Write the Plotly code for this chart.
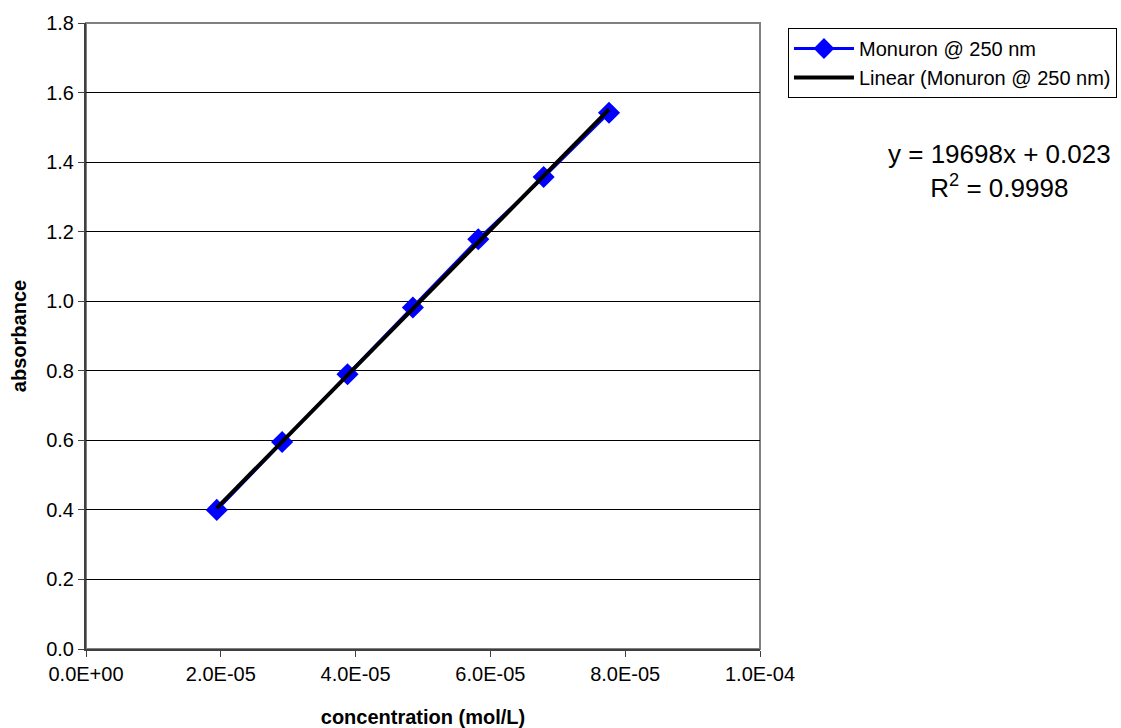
import plotly.graph_objects as go

# Data
concentration = [1.94e-5, 2.91e-5, 3.88e-5, 4.85e-5, 5.82e-5, 6.79e-5, 7.76e-5]
absorbance = [0.400, 0.595, 0.790, 0.982, 1.178, 1.357, 1.542]
trend_slope = 19698
trend_intercept = 0.023
x_tickvals = [0, 2e-5, 4e-5, 6e-5, 8e-5, 1e-4]
x_ticktext = ["0.0E+00", "2.0E-05", "4.0E-05", "6.0E-05", "8.0E-05", "1.0E-04"]
y_tickvals = [0.0, 0.2, 0.4, 0.6, 0.8, 1.0, 1.2, 1.4, 1.6, 1.8]
y_ticktext = ["0.0", "0.2", "0.4", "0.6", "0.8", "1.0", "1.2", "1.4", "1.6", "1.8"]

FONT = "Liberation Sans, Arial, sans-serif"

trend_x = [concentration[0], concentration[-1]]
trend_y = [trend_slope * v + trend_intercept for v in trend_x]

fig = go.Figure()
fig.add_trace(go.Scatter(
    x=concentration, y=absorbance, mode="lines+markers",
    name="Monuron @ 250 nm",
    line=dict(color="#0000FF", width=3),
    marker=dict(symbol="diamond", size=17, color="#0000FF"),
))
fig.add_trace(go.Scatter(
    x=trend_x, y=trend_y, mode="lines",
    name="Linear (Monuron @ 250 nm)",
    line=dict(color="#000000", width=4),
))

fig.update_layout(
    width=1121, height=728,
    margin=dict(l=86, r=361, t=23, b=79, autoexpand=False),
    paper_bgcolor="white", plot_bgcolor="white",
    font=dict(family=FONT, size=20, color="#000000"),
    showlegend=True,
    legend=dict(
        x=1.0415, y=0.992, xanchor="left", yanchor="top",
        bordercolor="#000000", borderwidth=1,
        font=dict(family=FONT, size=20),
        tracegroupgap=0, itemwidth=60,
    ),
    xaxis=dict(
        range=[0, 1e-4], tickvals=x_tickvals, ticktext=x_ticktext,
        showgrid=False, zeroline=False, automargin=False,
        showline=True, linecolor="#404040", linewidth=2,
        ticks="outside", ticklen=6, tickcolor="#404040", tickwidth=1,
        tickfont=dict(family=FONT, size=20),
        title=dict(text="<b>concentration (mol/L)</b>", font=dict(family=FONT, size=20), standoff=26),
    ),
    yaxis=dict(
        range=[0, 1.8], tickvals=y_tickvals, ticktext=y_ticktext,
        showgrid=True, gridcolor="#000000", gridwidth=1,
        zeroline=False, automargin=False,
        showline=True, linecolor="#404040", linewidth=2,
        ticks="outside", ticklen=6, tickcolor="#404040", tickwidth=1,
        tickfont=dict(family=FONT, size=20),
        title=dict(text="<b>absorbance</b>", font=dict(family=FONT, size=20), standoff=14),
    ),
    shapes=[dict(type="rect", xref="paper", yref="paper", x0=0, x1=1, y0=0, y1=1,
                 line=dict(color="#808080", width=2), layer="below")],
    annotations=[dict(
        xref="paper", yref="paper", x=1.356, y=0.7636, xanchor="center", yanchor="middle",
        text="y = 19698x + 0.023<br>R<sup>2</sup> = 0.9998", showarrow=False,
        font=dict(family=FONT, size=26), align="center",
    )],
)

fig.write_html("out.html")
